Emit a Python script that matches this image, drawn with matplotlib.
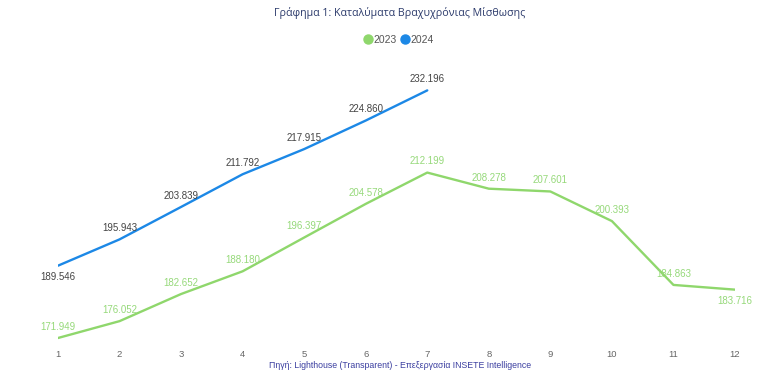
import matplotlib
matplotlib.use("Agg")
import matplotlib.pyplot as plt
from matplotlib.lines import Line2D

plt.rcParams['font.family'] = ['Open Sans', 'DejaVu Sans']

months = [1, 2, 3, 4, 5, 6, 7, 8, 9, 10, 11, 12]
values_2023 = [171.949, 176.052, 182.652, 188.180, 196.397, 204.578, 212.199,
               208.278, 207.601, 200.393, 184.863, 183.716]
values_2024 = [189.546, 195.943, 203.839, 211.792, 217.915, 224.860, 232.196]
labels_2023 = ["171.949", "176.052", "182.652", "188.180", "196.397", "204.578",
               "212.199", "208.278", "207.601", "200.393", "184.863", "183.716"]
labels_2024 = ["189.546", "195.943", "203.839", "211.792", "217.915", "224.860",
               "232.196"]

c23 = "#8fd76c"
c24 = "#1c88e6"

fig = plt.figure(figsize=(7.79, 3.89), dpi=100)
ax = fig.add_axes([58/779, 1-345/389, (735-58)/779, 275/389])
ax.set_xlim(1, 12)
ax.set_ylim(170.246, 237.157)

ax.plot(months, values_2023, color=c23, lw=1.7, solid_capstyle='round', solid_joinstyle='round')
ax.plot(months[:len(values_2024)], values_2024, color=c24, lw=1.7,
        solid_capstyle='round', solid_joinstyle='round')

for i, (x, v, t) in enumerate(zip(months, values_2023, labels_2023)):
    dy = -8 if i == len(values_2023) - 1 else 8
    ax.annotate(t, (x, v), xytext=(0, dy), textcoords='offset points',
                ha='center', va='center', fontsize=7, color="#96d97a",
                family=['Liberation Sans', 'DejaVu Sans'], annotation_clip=False)
for i, (x, v, t) in enumerate(zip(months, values_2024, labels_2024)):
    dy = -8 if i == 0 else 8
    ax.annotate(t, (x, v), xytext=(0, dy), textcoords='offset points',
                ha='center', va='center', fontsize=7, color="#444444",
                family=['Liberation Sans', 'DejaVu Sans'], annotation_clip=False)

ax.set_xticks(months)
ax.set_xticklabels([str(m) for m in months])
ax.set_yticks([])
ax.tick_params(axis='x', length=0, pad=3.5, labelsize=6.8, labelcolor="#666666")
for lbl in ax.get_xticklabels():
    lbl.set_family(['Liberation Sans', 'DejaVu Sans'])
for s in ax.spines.values():
    s.set_visible(False)

fig.text(400/779, 1-13/389, "Γράφημα 1: Καταλύματα Βραχυχρόνιας Μίσθωσης",
         ha='center', va='center', fontsize=7.7, color="#2b3a6b")

handles = [Line2D([], [], marker='o', ls='none', color=c23, markersize=6.5),
           Line2D([], [], marker='o', ls='none', color=c24, markersize=6.5)]
leg = fig.legend(handles, ["2023", "2024"], loc='center', bbox_to_anchor=(398/779, 1-40/389),
                 ncol=2, frameon=False, handletextpad=0.0, columnspacing=0.3,
                 handlelength=1.0, prop={'family': ['Liberation Sans', 'DejaVu Sans'], 'size': 7.5})
for t in leg.get_texts():
    t.set_color("#555555")

fig.text(400/779, 1-366/389, "Πηγή: Lighthouse (Transparent) - Επεξεργασία INSETE Intelligence",
         ha='center', va='center', fontsize=6.3, color="#3b3fa0",
         family=['Liberation Sans', 'DejaVu Sans'])

fig.savefig("out.png", dpi=100, facecolor='white')
